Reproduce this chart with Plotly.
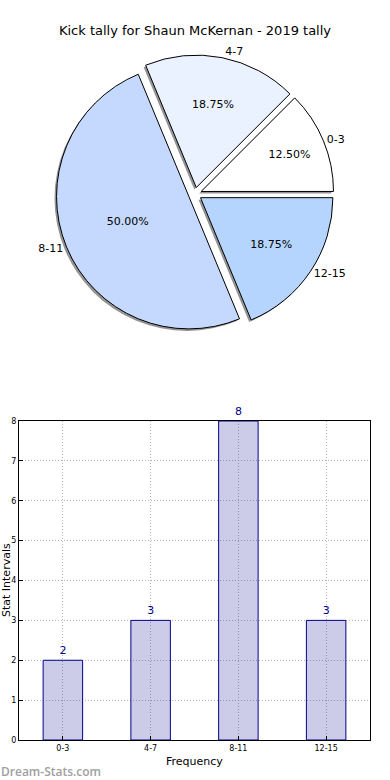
import plotly.graph_objects as go

categories = ["0-3", "4-7", "8-11", "12-15"]
counts = [2, 3, 8, 3]
pie_colors = ["#FFFFFF", "#EAF1FF", "#C5D9FF", "#B5D5FF"]
title_text = "Kick tally for Shaun McKernan - 2019 tally"

W, H = 390, 780
def px_x(p): return p / W
def px_y(p): return 1 - p / H

total = sum(counts)
# plotly (counterclockwise) places the first slice clockwise of `rotation`,
# so offset by the first slice so that it starts at 3 o'clock going up
rotation = 90 - 360 * counts[0] / total

pie_dom_x = [px_x(40), px_x(350)]
pie_dom_y = [px_y(333), px_y(55)]
pull = [0.05] * len(counts)

fig = go.Figure()

# shadow
fig.add_trace(go.Pie(
    labels=categories, values=counts, sort=False, direction="counterclockwise",
    rotation=rotation, pull=pull, textinfo="none", hoverinfo="skip", showlegend=False,
    marker=dict(colors=["rgba(60,60,60,0.55)"] * 4, line=dict(width=0)),
    domain=dict(x=[pie_dom_x[0] - px_x(2), pie_dom_x[1] - px_x(2)],
                y=[pie_dom_y[0] - 2 / H, pie_dom_y[1] - 2 / H]),
))
# main pie with percentages
fig.add_trace(go.Pie(
    labels=categories, values=counts, sort=False, direction="counterclockwise",
    rotation=rotation, pull=pull, showlegend=False,
    texttemplate="%{percent:.2%}", textposition="inside",
    insidetextorientation="horizontal",
    textfont=dict(family="DejaVu Sans", size=11, color="black"),
    marker=dict(colors=pie_colors, line=dict(color="black", width=1)),
    domain=dict(x=pie_dom_x, y=pie_dom_y),
))
# transparent overlay for outside labels
fig.add_trace(go.Pie(
    labels=categories, values=counts, sort=False, direction="counterclockwise",
    rotation=rotation, pull=pull, showlegend=False, hoverinfo="skip",
    texttemplate="%{label}", textposition="outside",
    textfont=dict(family="DejaVu Sans", size=11, color="black"),
    marker=dict(colors=["rgba(0,0,0,0)"] * 4, line=dict(width=0)),
    domain=dict(x=pie_dom_x, y=pie_dom_y),
))

fig.add_trace(go.Bar(
    x=categories, y=counts, width=0.45, showlegend=False,
    marker=dict(color="rgba(0,0,139,0.2)", line=dict(color="#00008B", width=1)),
    text=[str(c) for c in counts], textposition="outside", cliponaxis=False,
    textfont=dict(family="DejaVu Sans", size=11, color="#00008B"),
    xaxis="x", yaxis="y",
))

axis_common = dict(
    showline=True, mirror=True, linecolor="black", linewidth=1,
    showgrid=True, gridcolor="#b4b4b4", griddash="1px,2px", gridwidth=1,
    ticks="inside", ticklen=4, tickcolor="black", automargin=False,
    tickfont=dict(family="DejaVu Sans", size=8, color="black"), zeroline=False,
)
fig.update_layout(
    width=W, height=H, paper_bgcolor="white", plot_bgcolor="white",
    margin=dict(l=0, r=0, t=0, b=0, autoexpand=False),
    title=dict(text=title_text, x=0.5, xref="container", xanchor="center",
               y=px_y(30), yanchor="middle",
               font=dict(family="DejaVu Sans", size=13, color="black")),
    xaxis=dict(domain=[px_x(19), px_x(370)], range=[-0.5, 3.5], anchor="y", **axis_common),
    yaxis=dict(domain=[px_y(740), px_y(421)], range=[0, 8], dtick=1, anchor="x", **axis_common),
    annotations=[
        dict(text="Frequency", x=0.5 * (px_x(19) + px_x(370)), y=px_y(761), xref="paper", yref="paper",
             xanchor="center", yanchor="middle",
             showarrow=False, font=dict(family="DejaVu Sans", size=11, color="black")),
        dict(text="Stat Intervals", x=px_x(6), y=px_y(580), xref="paper", yref="paper",
             xanchor="center", yanchor="middle",
             textangle=-90, showarrow=False, font=dict(family="DejaVu Sans", size=11, color="black")),
        dict(text="Dream-Stats.com", x=px_x(-1), y=px_y(771), xref="paper", yref="paper",
             xanchor="left", yanchor="middle", showarrow=False,
             font=dict(family="Open Sans", size=12, weight=600, color="#a0a0a0")),
    ],
)

fig.write_html("out.html", config={"displayModeBar": False},
               post_script="document.body.style.margin='0';")
